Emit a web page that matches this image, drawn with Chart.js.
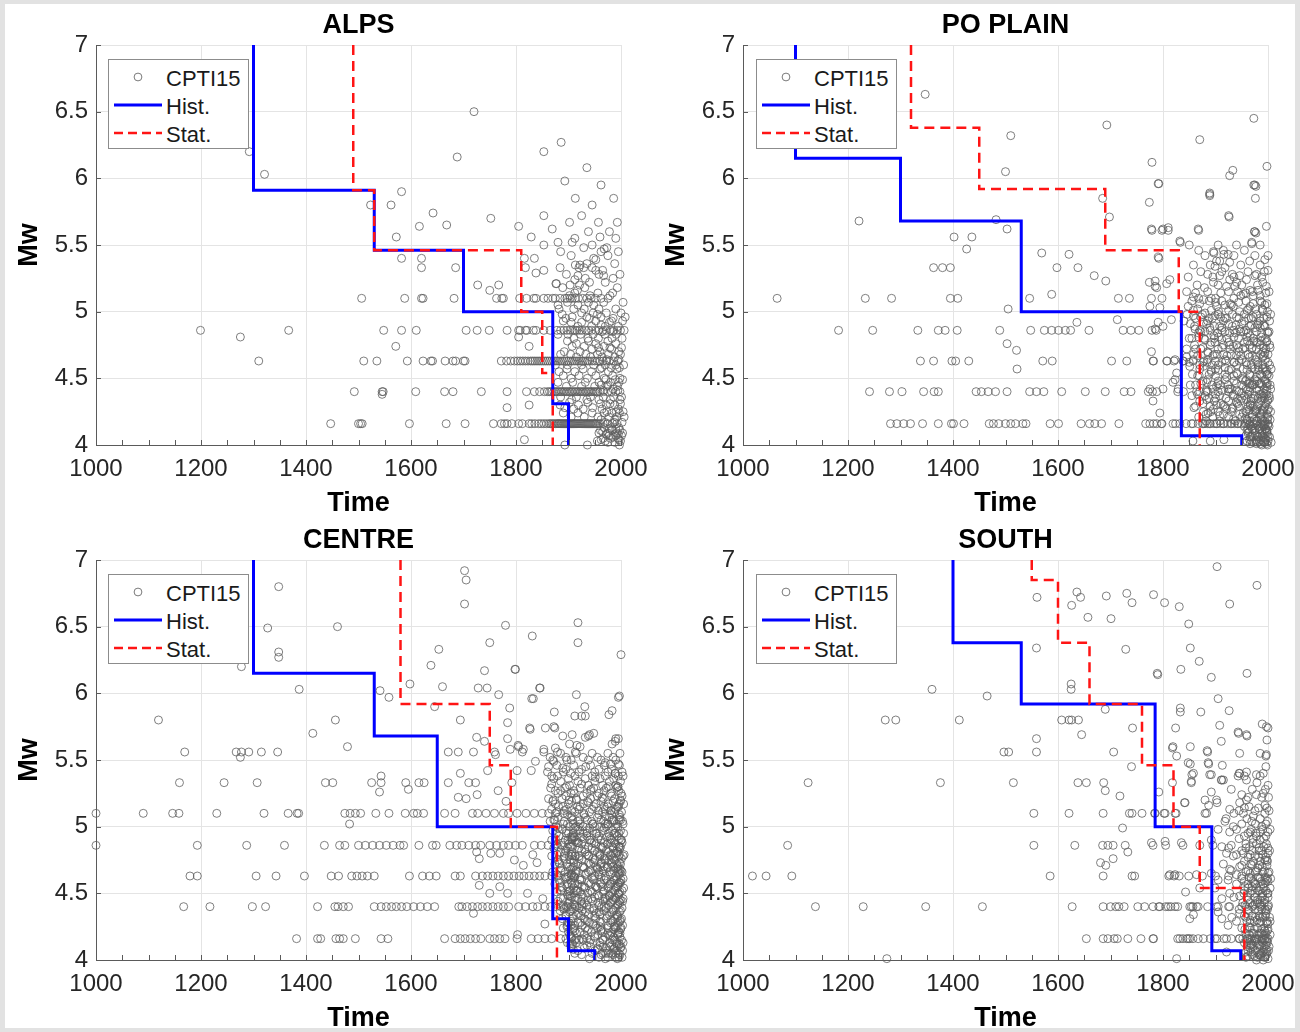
<!DOCTYPE html>
<html>
<head>
<meta charset="utf-8">
<title>Completeness of CPTI15 by zone</title>
<script src="https://cdn.jsdelivr.net/npm/chart.js@4.4.1/dist/chart.umd.min.js"></script>
<style>
  html, body { margin: 0; padding: 0; background: #e2e2e2; }
  body { width: 1300px; height: 1032px; position: relative; overflow: hidden; }
  #sheet { position: absolute; left: 5px; top: 4px; width: 1290px; height: 1024px; background: #fff; }
  .panel { position: absolute; width: 658px; height: 520px; }
  .panel canvas { display: block; }
  .legend { position: absolute; width: 141px; height: 90px; }
  .legend text { font-family: "Liberation Sans", Arial, Helvetica, sans-serif; font-size: 22px; fill: #1a1a1a; dominant-baseline: central; }
</style>
</head>
<body>
<div id="sheet"></div>

<div class="panel" style="left:0px;top:0px"><canvas id="alps" width="658" height="520"></canvas></div>
<div class="panel" style="left:647px;top:0px"><canvas id="po" width="658" height="520"></canvas></div>
<div class="panel" style="left:0px;top:515px"><canvas id="centre" width="658" height="520"></canvas></div>
<div class="panel" style="left:647px;top:515px"><canvas id="south" width="658" height="520"></canvas></div>

<script>
// ---------------------------------------------------------------------------
// CPTI15 events per zone. Each row: [Mw, year, year, ...]
// ---------------------------------------------------------------------------
const alpsEvents = [
  [4.16, 1447,1500,1504,1507,1597,1667,1703,1757,1772,1778,1783,1792,1805,1812,1825,1830,1836,1843,1848,1853,1858,1863,1866,1869,1872,1875,1878,1880,1882,1884,1886,1888,1890,1892,1894,1896,1898,1900,1902,1904,1906,1908,1910,1912,1914,1916,1918,1920,1922,1924,1926,1928,1930,1932,1934,1936,1938,1940,1942,1944,1946,1948,1950,1952,1954,1957,1960,1966,1975,1984,1992],
  [4.40, 1492,1545,1547,1609,1664,1680,1734,1783,1820,1835,1845,1854,1860,1864,1868,1872,1875,1878,1881,1884,1887,1890,1893,1896,1899,1902,1905,1908,1911,1914,1917,1920,1923,1926,1929,1932,1935,1938,1941,1944,1947,1950,1953,1956,1960,1967,1975,1982,1990,1998],
  [4.63, 1310,1510,1535,1593,1623,1638,1641,1665,1680,1685,1700,1703,1772,1782,1790,1797,1803,1808,1813,1818,1823,1828,1832,1836,1840,1844,1848,1852,1856,1860,1864,1868,1872,1876,1880,1884,1888,1892,1896,1900,1904,1908,1912,1916,1920,1924,1928,1932,1936,1940,1945,1950,1955,1960,1966,1972,1978,1986,1994],
  [4.86, 1199,1367,1548,1582,1610,1705,1726,1749,1783,1805,1808,1818,1821,1833,1838,1853,1865,1878,1885,1891,1897,1903,1908,1913,1916,1921,1926,1933,1938,1944,1952,1958,1966,1972,1980,1986,1993,1999,2006],
  [5.10, 1506,1588,1620,1623,1682,1763,1773,1776,1807,1820,1834,1838,1853,1861,1870,1875,1884,1893,1897,1903,1907,1913,1919,1927,1935,1943,1951,1962,1975],
  [5.33, 1620,1685,1818,1884,1920,1929,1945],
  [5.56, 1572,1829,1960],
  [5.80, 1523,1562,1945],
  [6.50, 1720], [6.27, 1886], [6.20, 1292,1853], [6.16, 1688], [6.03, 1321], [5.98, 1893], [5.95, 1962],
  [5.90, 1582], [5.74, 1642], [5.72, 1853,1925], [5.70, 1752], [5.65, 1668], [5.64, 1616,1805], [5.62, 1869],
  [5.50, 1853,1945], [5.47, 1968], [5.40, 1582,1620,1816,1835,1948], [5.39, 1952], [5.35, 1913,1922], [5.31, 1853,1952,1965],
  [5.29, 1838], [5.25, 1932,1985], [5.24, 1912], [5.21, 1876,1877], [5.20, 1727,1767,1903,1921], [5.16, 1750,1917],
  [5.05, 1880,1918,1948], [4.98, 1888,1955], [4.95, 1895,1940,1985], [4.92, 1905,1925,1978], [4.90, 1962],
  [4.81, 1275,1805], [4.78, 1898,1938,1975], [4.76, 1915,1952,1990], [4.74, 1571,1825,1907,1930,1968],
  [4.72, 1945,1982], [4.70, 1892,1922,1960,1996], [4.57, 1897,1928,1960,1992], [4.55, 1882,1912,1944,1976],
  [4.52, 1890,1920,1952,1984], [4.50, 1905,1936,1968,1998], [4.45, 1962,1975], [4.42, 1985], [4.38, 1545],
  [4.32, 1902,1937], [4.30, 1825,1884,1919,1972,1988], [4.28, 1783,1893,1946], [4.27, 1910,1928,1964,1995],
  [4.12, 1978,1990], [4.10, 1965], [4.08, 1972,1995], [4.06, 1985], [4.04, 1816], [4.02, 1975,1988], [4.00, 1893,1936,1997],
  // dense instrumental-era records
  [5.60, 1938,1978], [5.55, 1912,1990], [5.45, 1885,1962,1995], [5.42, 1905,1975], [5.36, 1935,1988],
  [5.28, 1896,1958,1998], [5.22, 1940,1970], [5.18, 1889,1931,1993], [5.14, 1912,1956,1984], [5.07, 1898,1938,1967,2004],
  [5.02, 1882,1910,1930,1958,1990], [4.99, 1925,1947,1972,2000], [4.96, 1907,1935,1962,2008], [4.93, 1890,1952,1982,2003],
  [4.89, 1918,1944,1970,1995], [4.83, 1880,1899,1923,1947,1969,1991], [4.80, 1910,1937,1957,1983,2002],
  [4.68, 1885,1904,1933,1955,1976,1999], [4.66, 1915,1942,1964,1988], [4.60, 1875,1898,1925,1948,1970,1990,2005],
  [4.47, 1880,1908,1932,1958,1980,1996], [4.44, 1896,1925,1950,1973,1993], [4.36, 1885,1915,1942,1966,1986,2001],
  [4.34, 1906,1935,1958,1980,1998], [4.24, 1890,1918,1945,1968,1983,1997], [4.21, 1905,1930,1956,1977,1992,2006],
  [4.19, 1962,1988], [4.13, 1968,1982,1996], [4.09, 1958,1975,1992,2003], [4.05, 1966,1980,1994], [4.03, 1955,1970,1999],
  [4.58, 1963,1981,1997], [4.49, 1971,1989,2003], [4.41, 1966,1994], [4.31, 1961,1979,1999], [4.25, 1973,1991,2004],
  [4.17, 1969,1987,2002], [4.11, 1961,1983,1998], [4.07, 1977,1990,2001], [4.04, 1962,1996], [4.85, 1964,1984],
  [4.73, 1957,1979,2001], [4.64, 1973,1996], [5.12, 1902,1941,1979], [5.27, 1918,1967], [5.48, 1929,1973],
  [5.67, 1902,1957,1993], [5.85, 1913,1986], [6.08, 1935], [5.52, 1880,1907]
];

const poEvents = [
  [4.16, 1281,1293,1306,1319,1342,1372,1397,1401,1421,1469,1477,1487,1500,1510,1519,1533,1539,1585,1601,1644,1660,1670,1683,1716,1767,1775,1782,1788,1797,1798,1819,1824,1832,1844,1854,1857,1867,1875,1877,1880,1885,1889,1890,1897,1902,1903,1910,1915,1916,1923,1929,1931,1936,1942,1943,1949,1956,1959,1965,1972,1975,1985,1988,1995,2000],
  [4.40, 1241,1279,1303,1344,1364,1372,1444,1454,1467,1481,1503,1546,1559,1573,1607,1652,1690,1726,1739,1772,1780,1788,1828,1864,1885,1905,1925,1945,1965],
  [4.63, 1338,1363,1398,1405,1430,1571,1589,1702,1731,1782,1808,1821,1838,1857,1878,1900,1920,1945],
  [4.86, 1182,1247,1333,1372,1385,1408,1489,1548,1574,1588,1601,1614,1624,1659,1724,1739,1754,1779,1787,1870,1890,1912,1935,1958],
  [5.10, 1065,1233,1283,1395,1409,1546,1715,1736,1778,1798,1868,1900,1935],
  [5.33, 1363,1380,1395,1598,1638],
  [5.56, 1402,1436],
  [6.63, 1347], [6.45, 1973], [6.40, 1693], [6.32, 1510], [6.29, 1870], [6.12, 1779], [6.09, 1998], [6.05, 1500],
  [6.06, 1933], [6.02, 1927], [5.96, 1792,1791], [5.95, 1973,1975], [5.94, 1977], [5.89, 1889], [5.88, 1889],
  [5.87, 1889], [5.85, 1685,1976], [5.82, 1774], [5.72, 1925], [5.71, 1698,1926], [5.69, 1482], [5.68, 1221],
  [5.64, 1997], [5.63, 1810], [5.62, 1503,1800,1778,1867], [5.61, 1779,1798,1810,1868], [5.60, 1974,1975],
  [5.59, 1977], [5.53, 1832], [5.52, 1833,1969], [5.51, 1969], [5.47, 1426], [5.45, 1896], [5.44, 1569,1897],
  [5.43, 1621,1916,1924], [5.41, 1791], [5.40, 1792], [5.39, 1994], [5.38, 1908], [5.37, 1927], [5.34, 1899],
  [5.33, 1918], [5.31, 2000], [5.27, 1669,1908,1946,1975], [5.24, 1927,1959,1813], [5.23, 1691,1785],
  [5.22, 1774], [5.21, 1807], [5.19, 1785,1937,1921,1997], [5.18, 1788], [5.16, 1966,1981], [5.13, 1588,1953],
  [5.12, 1972,1985], [5.11, 1858], [5.09, 1877], [5.10, 1892], [5.04, 1902,1934,1966,1775], [5.05, 1918,1994],
  [5.03, 1794], [5.02, 1505,1963,1976,1989], [5.00, 1946,1999], [4.99, 1880], [4.97, 1899,1858],
  [4.94, 1713,1816], [4.92, 1636,1791,1877], [4.90, 1968,1980,1992], [4.89, 1800,1908], [4.87, 1785,1861,1946],
  [4.88, 1889,1985], [4.84, 1927,2000], [4.82, 1966], [4.79, 1880,1912], [4.78, 1961,1973,1987,1998],
  [4.77, 1899,1978], [4.76, 1503], [4.74, 1934], [4.73, 1956], [4.71, 1521], [4.70, 1778], [4.69, 1994,1886],
  [4.68, 1915], [4.67, 1940], [4.66, 1965,1977,1990], [4.64, 1823,1858], [4.63, 1781,1807,1839],
  [4.59, 1851,1877], [4.58, 1970,1982,1994], [4.57, 1522], [4.56, 1905], [4.55, 1892], [4.54, 1826,1940],
  [4.53, 1998], [4.51, 1921,1978], [4.49, 1823,1959], [4.47, 1819,1883], [4.46, 1963,1974,1986,1997],
  [4.44, 1902,1998], [4.43, 1966], [4.42, 1927,1775,1800,1829], [4.39, 1950,1991], [4.40, 1839,1870],
  [4.35, 1968,1981,1993], [4.34, 1883,1959,2000], [4.33, 1781], [4.32, 1940], [4.30, 1902], [4.29, 1972],
  [4.27, 1921], [4.26, 1964,1976,1989,1999], [4.24, 1794,1985,1953,1886], [4.22, 1908], [4.19, 1934],
  [4.18, 1966,1979,1991], [4.12, 1962,1971,1983,1996], [4.08, 1986,1993], [4.06, 1966], [4.05, 1994],
  [4.03, 1857,1890,1969,1984], [4.04, 1916], [4.01, 1978], [4.00, 1999,1988],
  [4.93, 1840], [4.66, 1845], [5.04, 1848], [4.45, 1852], [4.80, 1855], [4.28, 1859], [4.72, 1862], [5.02, 1866],
  [4.52, 1869], [4.85, 1872], [4.62, 1876], [5.18, 1879], [4.40, 1882], [4.70, 1885], [4.95, 1888], [4.25, 1891],
  [4.60, 1894], [4.82, 1897], [4.35, 1900], [4.68, 1903], [5.00, 1906], [4.45, 1909], [4.88, 1912], [4.30, 1915],
  [4.58, 1918], [4.95, 1921], [4.42, 1924], [4.75, 1927], [5.05, 1930], [4.28, 1933], [4.62, 1936], [4.90, 1939],
  [4.35, 1942], [4.70, 1945], [5.12, 1948], [4.50, 1951], [4.85, 1954], [4.20, 1957], [4.60, 1960], [4.95, 1963],
  [4.30, 1966], [4.72, 1969], [4.45, 1972], [4.88, 1975], [4.25, 1978], [4.60, 1981], [4.95, 1984], [4.38, 1987],
  [4.70, 1990], [4.15, 1993], [4.55, 1996], [4.85, 1999], [4.10, 1964,1998], [4.02, 1980,1992],
  // dense instrumental-era records
  [5.50, 1850,1905,1940,1985], [5.46, 1868,1915,1955], [5.42, 1880,1935,1975,2000], [5.35, 1858,1890,1948,1985],
  [5.30, 1872,1912,1962,1993], [5.26, 1848,1895,1935,1988], [5.20, 1865,1905,1950,1980], [5.15, 1845,1885,1925,1942,1970,2002],
  [5.08, 1855,1888,1912,1958,1985], [5.06, 1870,1928,1972,1998], [4.98, 1846,1875,1905,1932,1955,1978,2005],
  [4.95, 1862,1894,1918,1945,1968,1992], [4.91, 1852,1883,1925,1950,1982], [4.84, 1868,1904,1938,1962,1988],
  [4.80, 1850,1878,1898,1922,1944,1972,1995], [4.75, 1860,1890,1915,1940,1965,1985,2003],
  [4.72, 1845,1872,1905,1928,1952,1978,1996], [4.67, 1866,1895,1922,1948,1970,1992],
  [4.62, 1850,1884,1912,1935,1958,1980,2000], [4.57, 1870,1900,1930,1953,1975,1990,2006],
  [4.53, 1856,1888,1918,1942,1965,1985,1999], [4.48, 1876,1905,1935,1957,1979,1995],
  [4.45, 1862,1893,1924,1950,1970,1988,2004], [4.41, 1883,1912,1940,1961,1983,1998],
  [4.37, 1855,1880,1908,1933,1955,1975,1992,2002], [4.33, 1870,1898,1925,1948,1968,1987,1999],
  [4.29, 1862,1890,1918,1944,1962,1980,1994], [4.25, 1877,1905,1930,1958,1975,1991,2005],
  [4.21, 1868,1895,1925,1950,1970,1986,2000], [4.18, 1882,1908,1938,1960,1978,1994],
  [4.14, 1955,1968,1982,1992,2002], [4.11, 1960,1975,1988,1998], [4.07, 1958,1970,1980,1990,2000],
  [4.04, 1965,1977,1987,1996], [4.02, 1972,1994,2006],
  [5.38, 1902,1965], [5.28, 1885,1932,1978], [5.22, 1896,1940,1990], [5.14, 1862,1910,1958,1996],
  [5.07, 1900,1944,1988], [5.01, 1858,1892,1925,1960,1990], [4.96, 1872,1910,1940,1972,1998],
  [4.93, 1885,1915,1955,1985,2003], [4.89, 1860,1898,1932,1965,1994], [4.85, 1880,1918,1948,1978,2002],
  [4.81, 1868,1906,1935,1960,1987], [4.77, 1892,1925,1955,1980,1997], [4.73, 1876,1912,1944,1970,1992,2004],
  [4.68, 1858,1898,1930,1962,1986,2000], [4.64, 1885,1918,1950,1976,1995], [4.60, 1870,1905,1940,1968,1990,2003],
  [4.56, 1892,1925,1960,1982,1998], [4.52, 1866,1900,1935,1966,1988,2002], [4.49, 1885,1918,1952,1975,1994],
  [4.46, 1872,1905,1940,1966,1983,1999], [4.42, 1895,1930,1958,1978,1993,2005], [4.38, 1866,1900,1935,1962,1984,1997],
  [4.35, 1888,1920,1950,1972,1989,2003], [4.31, 1876,1910,1942,1966,1983,1996], [4.27, 1896,1932,1960,1978,1992,2001],
  [4.23, 1882,1915,1946,1970,1987,1998], [4.19, 1960,1974,1988,1999,2004], [4.15, 1965,1978,1990,2000],
  [4.12, 1970,1984,1995], [4.09, 1962,1976,1989,1998], [4.06, 1968,1982,1992,2003], [4.03, 1960,1977,1990,2000],
  [4.01, 1966,1986,1997]
];

const centreEvents = [
  [4.16, 1382,1422,1428,1457,1464,1471,1494,1543,1556,1664,1684,1694,1703,1713,1723,1733,1750,1759,1769,1779,1802,1829,1842,1855,1868,1885,1895,1905,1915,1925,1935],
  [4.40, 1167,1217,1298,1323,1422,1455,1461,1471,1481,1530,1543,1553,1563,1572,1582,1592,1605,1618,1631,1645,1691,1697,1707,1717,1727,1736,1746,1756,1766,1776,1786,1805,1818,1832,1841,1855,1866,1876,1886,1896,1906,1916,1926],
  [4.63, 1179,1193,1305,1343,1397,1448,1462,1487,1497,1507,1517,1530,1597,1622,1635,1648,1684,1694,1723,1736,1746,1756,1766,1776,1786,1796,1806,1815,1825,1835,1845,1855,1868,1880],
  [4.86, 1000,1193,1287,1359,1435,1464,1474,1500,1513,1527,1540,1553,1566,1579,1586,1615,1641,1648,1674,1687,1697,1710,1723,1733,1750,1763,1776,1786,1799,1812,1835,1848,1861,1875,1888],
  [5.10, 1000,1090,1146,1158,1230,1320,1366,1383,1386,1474,1484,1494,1504,1533,1558,1589,1605,1612,1624,1664,1684,1717,1727,1743,1759,1776,1786,1802,1819,1835,1850,1862,1875,1890],
  [5.33, 1159,1244,1307,1437,1451,1525,1543,1590,1615,1625,1671,1710,1723,1792],
  [5.56, 1169,1267,1277,1291,1315,1346,1671,1690,1719,1759,1812,1853,1879,1913],
  [6.92, 1702], [6.85, 1705], [6.80, 1348], [6.67, 1702], [6.53, 1918], [6.51, 1780], [6.50, 1460], [6.49, 1327],
  [6.43, 1831], [6.38, 1750,1918], [6.33, 1653], [6.31, 1348], [6.29, 2000], [6.27, 1348], [6.21, 1638],
  [6.20, 1277], [6.18, 1798,1799], [6.17, 1740], [6.07, 1598], [6.05, 1660], [6.04, 1728,1745,1845,1846],
  [6.03, 1387], [6.02, 1541], [5.99, 1767,1915], [5.98, 1997], [5.97, 1558,1995], [5.96, 1830,1833],
  [5.90, 1645,1931], [5.89, 1788], [5.87, 1983], [5.86, 1873], [5.84, 1977], [5.83, 1912,1925,1932],
  [5.80, 1119,1456,1694], [5.78, 1784], [5.75, 1872], [5.74, 1826,1856,1874], [5.73, 1827], [5.70, 1413,1948],
  [5.69, 1907,1940], [5.68, 1889,1938], [5.67, 1725,1932], [5.66, 1784,1990,1995], [5.64, 1740,1989],
  [5.62, 1902,1983], [5.61, 1804,1916], [5.60, 1479,1805,1922], [5.59, 1875], [5.58, 1789,1814,1853],
  [5.54, 1761], [5.52, 1275], [5.50, 1897], [5.49, 1872,1837], [5.48, 1970], [5.47, 1980,1995], [5.42, 1746,1802,1829],
  [5.40, 1694], [5.38, 1543], [5.28, 1595], [5.27, 1766], [5.26, 1540], [5.24, 1726], [5.22, 1690], [5.21, 1705],
  [5.19, 1781], [5.02, 1483], [4.81, 1725], [4.80, 1752,1769], [4.79, 1832], [4.76, 1730], [4.75, 1797],
  [4.73, 1840], [4.71, 1814], [4.56, 1730], [4.55, 1769], [4.50, 1750,1784,1822], [4.46, 1851], [4.35, 1719],
  [4.27, 1855], [4.19, 1803],
  [5.45, 1862,1933], [5.32, 1868,1925], [5.20, 1871,1901,1999], [5.05, 1874,1921,1983], [4.95, 1877,1935,1954],
  [5.38, 1879], [5.15, 1881,1917,1993], [4.72, 1883,1992], [5.27, 1885], [4.55, 1886,1930,1952], [4.98, 1888,1918],
  [5.44, 1889], [4.38, 1891,1940], [5.12, 1892,1906,1957,1981], [4.80, 1893,1959,1986], [4.62, 1895,1911,1962],
  [5.30, 1896,1976,1994], [4.25, 1897,1960,1987], [5.02, 1898,1975], [4.90, 1899,1907,1941], [4.48, 1900,1958,1978],
  [4.70, 1902,1927,1968], [4.12, 1903,1992,1997], [5.40, 1904,1989], [4.85, 1905,1903,1966,1996], [4.58, 1906,1997],
  [5.08, 1907,1970], [4.33, 1908], [4.95, 1909,1900,1989], [4.75, 1910,1977], [5.25, 1911], [4.45, 1912,1937,1974,1985],
  [4.65, 1913,1934,1998], [5.00, 1914,1961,1919], [4.20, 1915,1975,1994,1998], [4.88, 1916,1949,1980], [4.52, 1918,1902],
  [4.35, 1919,1953], [4.78, 1920,1939,1908], [4.60, 1922,1988], [4.28, 1923,1901], [4.92, 1924,1911,1973],
  [4.42, 1926,1910,1994], [4.15, 1928,1965,1984,1920], [5.10, 1929], [4.83, 1931], [4.30, 1932,1981,1999],
  [4.97, 1935], [4.22, 1936,1912,1962], [4.50, 1937,1910,1995], [5.18, 1938], [4.10, 1942,1978,2000,1966],
  [5.28, 1943], [4.62, 1944,1898], [5.02, 1946], [4.27, 1947], [4.73, 1948], [4.18, 1950,1904,1980], [5.37, 1951],
  [4.68, 1955,1904,1998], [4.08, 1956,1909,1986], [4.40, 1963,1899,1968], [5.22, 1964], [4.05, 1971,1990,1976],
  [4.57, 1979], [4.50, 1995], [4.88, 1919], [4.85, 1996], [4.90, 2000],
  [4.70, 1960,1985], [4.55, 1964,1990], [4.78, 1970], [4.38, 1984], [4.02, 1996], [4.25, 1988], [4.32, 1993],
  [4.58, 1997], [4.95, 1987], [5.12, 1981], [5.02, 1975], [5.15, 1968], [5.30, 1994], [5.40, 1989], [5.05, 1996],
  [4.80, 1990], [4.68, 1995], [4.45, 1999], [4.48, 1903,1978], [4.92, 1907], [4.62, 1911], [5.20, 1915],
  // dense instrumental-era records
  [5.52, 1865,1895,1928,1955,1985], [5.46, 1878,1910,1942,1968,1997], [5.41, 1860,1890,1920,1950,1975,2002],
  [5.36, 1872,1900,1932,1960,1986], [5.29, 1866,1893,1922,1948,1972,1992], [5.25, 1880,1905,1935,1958,1980,2000],
  [5.21, 1862,1888,1915,1942,1966,1988], [5.17, 1875,1900,1928,1952,1976,1996,2005], [5.13, 1868,1896,1920,1945,1970,1990],
  [5.07, 1880,1905,1932,1955,1978,1998], [5.04, 1865,1892,1918,1944,1967,1986,2003], [5.00, 1876,1902,1928,1950,1972,1994],
  [4.97, 1870,1896,1922,1946,1965,1984,1999], [4.93, 1882,1908,1935,1958,1978,1993], [4.90, 1868,1894,1915,1940,1962,1982,2001],
  [4.87, 1878,1900,1925,1952,1974,1990], [4.84, 1872,1898,1920,1945,1964,1985,1998], [4.81, 1885,1906,1932,1955,1976,1994],
  [4.78, 1868,1892,1912,1938,1960,1980,1996,2004], [4.75, 1880,1903,1926,1950,1970,1988], [4.72, 1874,1897,1918,1942,1962,1982,1999],
  [4.69, 1886,1908,1930,1955,1975,1992], [4.66, 1870,1894,1915,1938,1958,1978,1995,2002], [4.63, 1900,1910,1950,1970,1990],
  [4.60, 1882,1904,1925,1948,1968,1986,2000], [4.57, 1874,1898,1918,1942,1962,1980,1994], [4.54, 1888,1910,1932,1955,1975,1991,2005],
  [4.51, 1878,1900,1922,1945,1966,1984,1998], [4.47, 1885,1906,1928,1950,1970,1988], [4.44, 1880,1902,1924,1946,1966,1982,1996,2003],
  [4.41, 1890,1912,1935,1958,1976,1993], [4.37, 1884,1904,1926,1948,1968,1986,1999], [4.34, 1895,1915,1938,1960,1978,1992],
  [4.31, 1888,1908,1930,1952,1972,1988,2001], [4.28, 1898,1918,1940,1962,1980,1995], [4.24, 1890,1910,1932,1955,1975,1990,2000],
  [4.21, 1900,1922,1944,1965,1982,1996], [4.17, 1906,1950,1970,1986,1998], [4.13, 1898,1915,1940,1960,1978,1992,2004],
  [4.09, 1905,1930,1955,1972,1988,1999], [4.05, 1912,1945,1965,1982,1995], [4.02, 1958,1975,1990,2002],
  [4.92, 1904,1911], [4.78, 1901,1913], [4.64, 1906], [4.52, 1903,1914], [4.38, 1909], [4.26, 1905,1912],
  [4.12, 1908], [5.02, 1909], [4.70, 1910], [4.56, 1907],
  [5.55, 1885,1915,1945,1975,1998], [5.50, 1870,1905,1938,1962,1990], [5.43, 1895,1925,1958,1982],
  [5.38, 1868,1912,1945,1970,1995,2004], [5.34, 1885,1918,1950,1978,1999], [5.31, 1902,1938,1965,1990],
  [5.27, 1875,1910,1942,1968,1996], [5.23, 1895,1928,1955,1982,2002], [5.19, 1870,1906,1936,1962,1985,1999],
  [5.15, 1890,1922,1948,1974,1995], [5.11, 1878,1912,1940,1965,1988,2001], [5.09, 1898,1930,1958,1982,1997],
  [5.05, 1872,1908,1936,1962,1986,1999], [5.02, 1890,1922,1946,1970,1992,2004], [4.99, 1880,1912,1940,1968,1990],
  [4.95, 1896,1928,1952,1976,1996,2005], [4.91, 1875,1906,1930,1956,1980,1997], [4.88, 1890,1918,1944,1968,1988,2002],
  [4.85, 1880,1908,1938,1962,1984,1999], [4.82, 1895,1925,1950,1972,1992], [4.79, 1878,1905,1935,1960,1980,1997,2006],
  [4.76, 1892,1920,1946,1968,1986,2001], [4.73, 1882,1910,1938,1962,1982,1997], [4.70, 1898,1928,1952,1974,1994],
  [4.67, 1886,1914,1942,1966,1986,2000], [4.64, 1878,1905,1932,1958,1980,1996], [4.61, 1893,1922,1946,1972,1992,2004],
  [4.58, 1884,1912,1938,1960,1982,1999], [4.55, 1897,1926,1952,1976,1994], [4.52, 1886,1916,1942,1968,1988,2002],
  [4.49, 1898,1925,1955,1978,1996], [4.46, 1890,1918,1944,1970,1990,2004], [4.43, 1900,1930,1956,1980,1998],
  [4.39, 1892,1920,1948,1972,1990,2002], [4.36, 1902,1932,1958,1982,1997], [4.33, 1895,1924,1950,1974,1994],
  [4.29, 1905,1936,1960,1984,1998], [4.26, 1898,1926,1952,1976,1993,2003], [4.23, 1908,1938,1962,1986,1999],
  [4.19, 1902,1930,1956,1978,1994], [4.15, 1912,1942,1966,1988,2001], [4.11, 1906,1935,1960,1982,1996],
  [4.07, 1918,1950,1974,1992,2003], [4.04, 1925,1962,1985,1998], [4.01, 1940,1970,1993]
];

const southEvents = [
  [4.16, 1654,1686,1695,1707,1713,1733,1758,1781,1782,1828,1832,1838,1845,1848,1851,1857,1867,1877,1890,1899,1903,1916,1921,1930,1945,1946,1952,1960,1962,1966,1970,1975,1978,1982,1988,1990,1994,1997,2000],
  [4.40, 1138,1229,1348,1456,1627,1686,1700,1710,1716,1726,1752,1765,1781,1792,1794,1805,1810,1815,1823,1828,1851,1854,1857,1864,1867,1885,1902,1905,1925,1927,1950,1959,1970,1985,2000],
  [4.63, 1018,1044,1093,1585,1686,1741,1746,1811,1821,1831,1849,1875,1900,1925,1950],
  [4.86, 1085,1554,1632,1685,1695,1705,1728,1781,1805,1838,1870,1895,1930],
  [5.10, 1554,1621,1686,1736,1741,1760,1784,1785,1802,1804,1823,1825,1880,1883,1935,1953,1994],
  [5.33, 1124,1376,1515,1638,1654,1687,1818,1854],
  [5.56, 1497,1506,1559,1706,1885],
  [5.80, 1271,1291,1412,1607,1621,1626,1639],
  [6.95, 1903], [6.81, 1979], [6.76, 1636], [6.75, 1731], [6.74, 1782], [6.73, 1692], [6.72, 1560,1643],
  [6.68, 1741,1803], [6.67, 1927], [6.66, 1626], [6.65, 1831], [6.57, 1657], [6.56, 1701], [6.52, 1849],
  [6.34, 1559,1852], [6.33, 1729], [6.24, 1869], [6.18, 1834], [6.15, 1960,1789], [6.14, 1790], [6.12, 1892],
  [6.07, 1625], [6.03, 1360,1625], [5.98, 1465], [5.96, 1905], [5.89, 1833], [5.88, 1690], [5.87, 1926],
  [5.86, 1833,1872], [5.77, 1989], [5.76, 1908], [5.74, 1742,1824,2000], [5.75, 1997], [5.71, 1943],
  [5.70, 1944], [5.69, 1645,1959], [5.68, 1960], [5.66, 1559], [5.64, 1911], [5.60, 1819,1852], [5.59, 1818],
  [5.57, 1884], [5.55, 1946], [5.54, 1997], [5.53, 1826,1996], [5.48, 1886,1848], [5.47, 1852,1887],
  [5.46, 1913], [5.45, 1740], [5.41, 1959], [5.40, 1946,1991,1858,1945], [5.39, 1855,1892,1978,1889],
  [5.38, 1943], [5.35, 1911,1915,1959,1912], [5.34, 1854], [5.33, 1979], [5.31, 2000], [5.27, 1690],
  [5.26, 1792,1892], [5.24, 1950,1978], [5.23, 1718], [5.20, 1880,1902,1959], [5.18, 1841,1903,1842,1946],
  [5.16, 1887,1994], [5.13, 1927], [5.04, 1918,1969,1999], [5.00, 1934], [4.99, 1723], [4.96, 1927],
  [4.90, 1892,1985], [4.89, 1804], [4.88, 1778,1835], [4.85, 1912,1965], [4.81, 1733], [4.80, 1921,1953,2000],
  [4.78, 1934,1975], [4.76, 1705], [4.75, 1994], [4.73, 1681], [4.72, 1915], [4.71, 1691], [4.70, 1946],
  [4.69, 1981], [4.68, 1927], [4.65, 1892,1966,2000], [4.64, 1813,1823,1864,1940], [4.60, 1905,1924,1997],
  [4.55, 1956], [4.54, 1870,1899], [4.51, 1843], [4.50, 1927,1966,2000], [4.48, 1946], [4.46, 1912],
  [4.45, 1985], [4.36, 1905], [4.35, 1946], [4.34, 1858], [4.32, 1931,1985], [4.31, 1851,1912], [4.30, 1966],
  [4.27, 2000], [4.26, 1924], [4.22, 1994], [4.09, 1966], [4.08, 1997], [4.06, 1921], [4.04, 1985],
  [4.01, 1274,1826,2000], [4.00, 1978,1991],
  [4.95, 1962,1977], [4.72, 1967], [4.88, 1971], [4.58, 1974,1995], [4.62, 1980], [4.82, 1983], [4.55, 1986],
  [4.70, 1989], [4.85, 1992], [4.75, 1998], [4.25, 1963], [4.12, 1968,1982], [4.20, 1973,1988], [4.30, 1979],
  [4.15, 1993], [4.35, 1996], [4.22, 1999], [4.42, 1984,1976], [4.48, 1990], [4.38, 1994], [4.05, 1987],
  [4.55, 1970], [4.52, 1981], [5.15, 1964], [5.08, 1972], [5.00, 1988], [5.25, 1991], [5.45, 1996],
  [5.55, 1985], [5.65, 1998],
  // dense instrumental-era records
  [5.28, 1930,1970,1995], [5.12, 1945,1975,2002], [5.06, 1920,1960,1985], [4.98, 1905,1940,1968,1990,2004],
  [4.93, 1955,1978,1996], [4.84, 1925,1958,1983,2000], [4.79, 1940,1966,1990], [4.74, 1955,1972,1986,1999],
  [4.67, 1930,1962,1978,1993], [4.61, 1950,1968,1985,1999,2005], [4.57, 1940,1962,1976,1991],
  [4.52, 1955,1970,1984,1996], [4.47, 1935,1960,1975,1988,2000], [4.43, 1952,1966,1980,1993],
  [4.38, 1945,1962,1975,1988,1999], [4.33, 1955,1970,1983,1995], [4.29, 1940,1960,1974,1986,1998,2004],
  [4.24, 1950,1966,1980,1992], [4.20, 1958,1970,1984,1996], [4.13, 1955,1966,1978,1990,1999],
  [4.10, 1960,1972,1984,1993,2002], [4.06, 1958,1968,1980,1990,1998], [4.03, 1962,1974,1986,1995],
  [5.38, 1955,1985], [5.22, 1962,1988,2001], [5.14, 1955,1982,1998], [5.02, 1950,1976,1996], [4.96, 1966,1985,2000],
  [4.91, 1945,1972,1992], [4.87, 1958,1978,1997], [4.82, 1950,1970,1988,2003], [4.77, 1962,1982,1996],
  [4.71, 1950,1970,1984,1998], [4.66, 1958,1976,1990,2002], [4.62, 1964,1982,1995], [4.59, 1955,1972,1988,2000],
  [4.54, 1962,1978,1992,2004], [4.50, 1954,1975,1990,1999], [4.45, 1962,1980,1994], [4.41, 1956,1972,1988,2001],
  [4.37, 1964,1982,1996], [4.32, 1958,1976,1990,2003], [4.28, 1966,1984,1997], [4.23, 1956,1974,1988,2000],
  [4.19, 1964,1980,1993,2004], [4.14, 1960,1976,1988,1998], [4.11, 1968,1984,1996], [4.07, 1962,1976,1992,2001],
  [4.04, 1970,1983,1997], [4.02, 1958,1980,1993]
];

// Completeness thresholds: Mw level in force between consecutive years
// (before the first year the threshold runs off the top of the axis, after the
// last year it drops to the bottom).
const alpsHistYears   = [1300, 1530, 1700, 1870, 1900];
const alpsHistMw      = [5.91, 5.46, 5.00, 4.31];
const alpsStatYears   = [1490, 1530, 1810, 1850, 1870];
const alpsStatMw      = [5.91, 5.46, 5.00, 4.54];

const poHistYears     = [1100, 1300, 1530, 1835, 1950];
const poHistMw        = [6.15, 5.68, 5.00, 4.07];
const poStatYears     = [1320, 1450, 1690, 1830, 1870];
const poStatMw        = [6.38, 5.92, 5.46, 5.00];

const centreHistYears = [1300, 1530, 1650, 1870, 1900, 1950];
const centreHistMw    = [6.15, 5.68, 5.00, 4.31, 4.07];
const centreStatYears = [1580, 1750, 1790, 1878];
const centreStatMw    = [5.92, 5.46, 5.00];

const southHistYears  = [1400, 1530, 1785, 1893, 1948];
const southHistMw     = [6.38, 5.92, 5.00, 4.07];
const southStatYears  = [1550, 1600, 1660, 1760, 1820, 1870, 1955];
const southStatMw     = [6.85, 6.38, 5.92, 5.46, 5.00, 4.54];

// Axis ranges and tick labels
const timeRange = [1000, 2000];
const timeTicks = [1000, 1200, 1400, 1600, 1800, 2000];
const mwRange   = [4, 7];
const mwTicks   = [4, 4.5, 5, 5.5, 6, 6.5, 7];

const FONT = '"Liberation Sans", Arial, Helvetica, sans-serif';

function eventsToPoints(rows) {
  const pts = [];
  rows.forEach(row => {
    for (let i = 1; i < row.length; i++) pts.push({ x: row[i], y: row[0] });
  });
  return pts;
}

// Staircase through the threshold years/levels, from the top of the axis down to the bottom.
function staircase(years, levels) {
  const pts = [{ x: years[0], y: mwRange[1] }];
  for (let i = 0; i < levels.length; i++) {
    pts.push({ x: years[i], y: levels[i] });
    pts.push({ x: years[i + 1], y: levels[i] });
  }
  pts.push({ x: years[years.length - 1], y: mwRange[0] });
  return pts;
}

// Short inward tick marks on the left and bottom axes.
const inwardTicks = {
  id: 'inwardTicks',
  afterDatasetsDraw(chart) {
    const { ctx, chartArea: a, scales: { x, y } } = chart;
    ctx.save();
    ctx.strokeStyle = '#5a5a5a';
    ctx.lineWidth = 1;
    ctx.beginPath();
    for (let v = timeRange[0]; v <= timeRange[1]; v += 50) {
      const px = Math.round(x.getPixelForValue(v)) + 0.5;
      ctx.moveTo(px, a.bottom);
      ctx.lineTo(px, a.bottom - 5);
    }
    mwTicks.forEach(v => {
      const py = Math.round(y.getPixelForValue(v)) + 0.5;
      ctx.moveTo(a.left, py);
      ctx.lineTo(a.left + 5, py);
    });
    ctx.stroke();
    ctx.restore();
  }
};

function drawZone(canvasId, title, events, histYears, histMw, statYears, statMw) {
  const ctx = document.getElementById(canvasId).getContext('2d');
  return new Chart(ctx, {
    type: 'scatter',
    data: {
      datasets: [
        {
          label: 'Stat.',
          data: staircase(statYears, statMw),
          showLine: true,
          borderColor: '#ff1414',
          borderWidth: 2.5,
          borderDash: [10, 6],
          pointRadius: 0,
          fill: false,
          order: 0
        },
        {
          label: 'Hist.',
          data: staircase(histYears, histMw),
          showLine: true,
          borderColor: '#0000ff',
          borderWidth: 3,
          pointRadius: 0,
          fill: false,
          order: 1
        },
        {
          label: 'CPTI15',
          data: eventsToPoints(events),
          showLine: false,
          pointStyle: 'circle',
          pointRadius: 4,
          pointBorderWidth: 1,
          pointBorderColor: 'rgba(92,92,92,0.78)',
          pointBackgroundColor: 'rgba(255,255,255,0)',
          order: 2,
          clip: { left: 5, top: 5, right: 12, bottom: 5 }
        }
      ]
    },
    options: {
      responsive: false,
      animation: false,
      devicePixelRatio: 1,
      events: [],
      layout: { padding: { left: 0, right: 37, top: 0, bottom: 0 } },
      plugins: {
        legend: { display: false },
        tooltip: { enabled: false },
        title: {
          display: true,
          text: title,
          fullSize: false,
          color: '#000',
          font: { family: FONT, size: 27, weight: 'bold', lineHeight: 1.2 },
          padding: { top: 9, bottom: 3.6 }
        }
      },
      scales: {
        x: {
          type: 'linear',
          min: timeRange[0],
          max: timeRange[1],
          afterBuildTicks(s) { s.ticks = timeTicks.map(v => ({ value: v })); },
          afterFit(s) { s.height = 75; },
          ticks: {
            color: '#262626',
            font: { family: FONT, size: 24 },
            padding: 10,
            maxRotation: 0,
            autoSkip: false,
            callback: v => String(v)
          },
          grid: { color: '#e4e4e4', lineWidth: 1, drawTicks: false },
          border: { display: true, color: '#5a5a5a', width: 1 },
          title: {
            display: true,
            text: 'Time',
            color: '#000',
            font: { family: FONT, size: 27, weight: 'bold', lineHeight: 1.2 },
            padding: { top: 0, bottom: 0 }
          }
        },
        y: {
          type: 'linear',
          min: mwRange[0],
          max: mwRange[1],
          afterBuildTicks(s) { s.ticks = mwTicks.map(v => ({ value: v })); },
          afterFit(s) { s.width = 96; },
          ticks: {
            color: '#262626',
            font: { family: FONT, size: 24 },
            padding: 8,
            autoSkip: false,
            callback: v => String(v)
          },
          grid: { color: '#e4e4e4', lineWidth: 1, drawTicks: false },
          border: { display: true, color: '#5a5a5a', width: 1 },
          title: {
            display: true,
            text: 'Mw',
            color: '#000',
            font: { family: FONT, size: 27, weight: 'bold', lineHeight: 1.2 },
            padding: { top: 13, bottom: 0 }
          }
        }
      }
    },
    plugins: [inwardTicks]
  });
}

// Legend box inside the upper-left corner of each plot area.
function addLegend(left, top) {
  const ns = 'http://www.w3.org/2000/svg';
  const svg = document.createElementNS(ns, 'svg');
  svg.setAttribute('class', 'legend');
  svg.setAttribute('width', '141');
  svg.setAttribute('height', '90');
  svg.style.left = left + 'px';
  svg.style.top = top + 'px';
  svg.innerHTML =
    '<rect x="0.5" y="0.5" width="140" height="89" fill="#fff" stroke="#8c8c8c" stroke-width="1"/>' +
    '<circle cx="30" cy="18" r="3.9" fill="none" stroke="#7a7a7a" stroke-width="1"/>' +
    '<text x="58" y="19">CPTI15</text>' +
    '<line x1="6" y1="46" x2="54" y2="46" stroke="#0000ff" stroke-width="3"/>' +
    '<text x="58" y="47">Hist.</text>' +
    '<line x1="6" y1="74" x2="54" y2="74" stroke="#ff1414" stroke-width="2.5" stroke-dasharray="9 5"/>' +
    '<text x="58" y="75">Stat.</text>';
  document.body.appendChild(svg);
}

drawZone('alps',   'ALPS',     alpsEvents,   alpsHistYears,   alpsHistMw,   alpsStatYears,   alpsStatMw);
drawZone('po',     'PO PLAIN', poEvents,     poHistYears,     poHistMw,     poStatYears,     poStatMw);
drawZone('centre', 'CENTRE',   centreEvents, centreHistYears, centreHistMw, centreStatYears, centreStatMw);
drawZone('south',  'SOUTH',    southEvents,  southHistYears,  southHistMw,  southStatYears,  southStatMw);

addLegend(108, 59);
addLegend(756, 59);
addLegend(108, 574);
addLegend(756, 574);
</script>
</body>
</html>
